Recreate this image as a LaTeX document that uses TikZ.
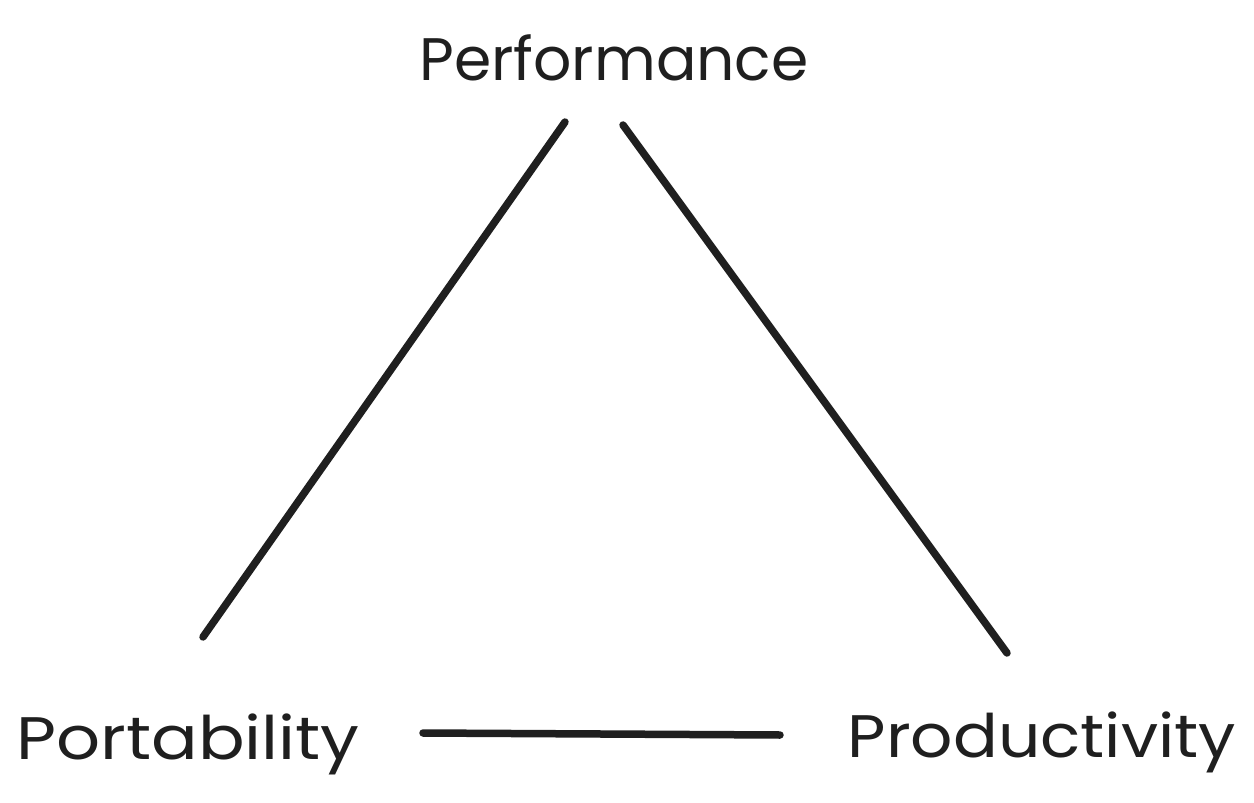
\documentclass[tikz,border=0pt]{standalone}
\usepackage{fontspec}
\setmainfont{Poppins}
\begin{document}
\begin{tikzpicture}[x=1pt,y=-1pt,
  lbl/.style={inner sep=0pt, anchor=base, font=\fontsize{60}{64}\selectfont, text=black!88},
  edge/.style={line width=7.5pt, line cap=round, draw=black!88}]
\useasboundingbox (0,0) rectangle (1254,803);
\node[lbl] (perf) at (614,80) {\scalebox{1.0}[1]{Performance}};
\node[lbl] (port) at (188,759) {\scalebox{1.15}[1]{Portability}};
\node[lbl] (prod) at (1042,757) {\scalebox{1.105}[1]{Productivity}};
\coordinate (a1) at (565,122);
\coordinate (a2) at (203,637);
\coordinate (b1) at (623,125);
\coordinate (b2) at (1007,653);
\coordinate (c1) at (423,733);
\coordinate (c2) at (780,735);
\draw[edge] (a1) -- (a2);
\draw[edge] (b1) -- (b2);
\draw[edge] (c1) -- (c2);
\end{tikzpicture}
\end{document}
